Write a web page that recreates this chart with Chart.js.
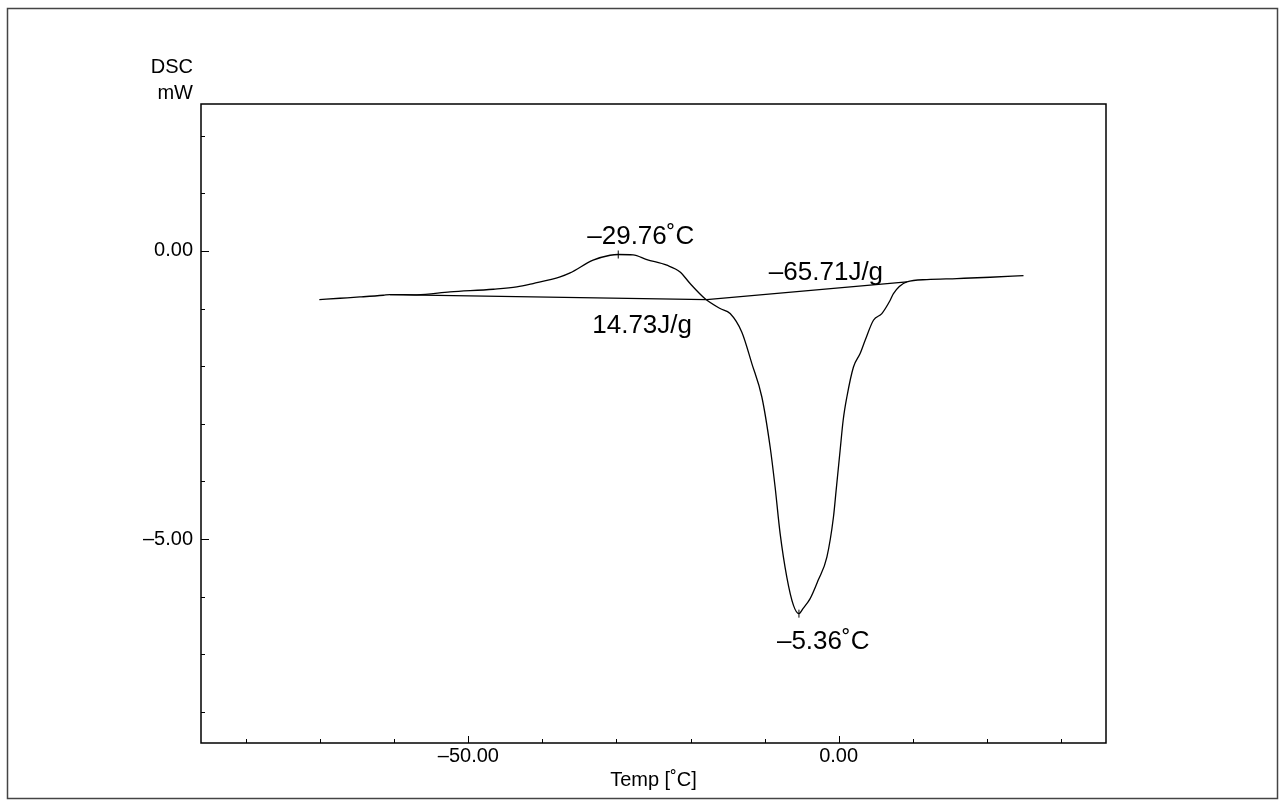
<!DOCTYPE html>
<html>
<head>
<meta charset="utf-8">
<title>DSC</title>
<script src="https://cdn.jsdelivr.net/npm/chart.js@4.4.0/dist/chart.umd.min.js"></script>
<style>
  html, body { margin: 0; padding: 0; background: #fff; }
</style>
</head>
<body>
<canvas id="dsc" width="1285" height="807"></canvas>
<script>
// DSC heating scan: temperature [˚C] vs heat flow [mW]
const temps = [-70.12, -67.33, -64.63, -61.48, -60.58, -56.97, -52.47, -46.62, -43.46, -41.26,
  -37.61, -36.26, -33.16, -30.86, -29.76, -27.76, -25.90, -23.20, -21.41, -20.06,
  -18.03, -16.00, -14.65, -13.07, -11.72, -10.37, -9.25, -8.58, -7.90, -7.00,
  -6.10, -5.36, -4.79, -3.85, -2.77, -1.59, -0.70, -0.34, 0.20, 0.61,
  1.11, 2.00, 2.90, 3.58, 4.70, 5.83, 6.96, 7.40, 9.21, 11.91,
  15.96, 20.46, 24.96];
const heatFlow = [-0.844, -0.821, -0.799, -0.769, -0.757, -0.762, -0.712, -0.665, -0.625, -0.566,
  -0.451, -0.382, -0.161, -0.075, -0.062, -0.068, -0.149, -0.248, -0.365, -0.566,
  -0.830, -1.000, -1.087, -1.411, -1.955, -2.535, -3.403, -4.097, -4.906, -5.660,
  -6.151, -6.295, -6.203, -6.035, -5.717, -5.313, -4.618, -4.155, -3.460, -2.939,
  -2.535, -2.014, -1.781, -1.550, -1.203, -1.087, -0.856, -0.740, -0.538, -0.497,
  -0.479, -0.457, -0.427];

// integration baselines of the two peaks
const base1Temps = [-60.58, -17.83];
const base1Flow = [-0.757, -0.844];
const base2Temps = [-17.83, 9.21];
const base2Flow = [-0.844, -0.538];

// peak results
const peakTemps = [-29.76, -5.36];
const enthalpies = [14.73, -65.71];

// axis ticks
const xMajor = [-50, 0];
const xMajorLabels = ['–50.00', '0.00'];
const xMinor = [-80, -70, -60, -40, -30, -20, -10, 10, 20, 30];
const yMajor = [0, -5];
const yMajorLabels = ['0.00', '–5.00'];
const yMinor = [2, 1, -1, -2, -3, -4, -6, -7, -8];

const FONT = '"Liberation Sans", Arial, Helvetica, sans-serif';

const toPoints = (xs, ys) => xs.map((t, i) => ({ x: t, y: ys[i] }));
const fmt = v => (v < 0 ? '–' : '') + Math.abs(v).toFixed(2);

// heat flow at a temperature
function flowAt(t) {
  for (let i = 1; i < temps.length; i++) {
    if (t <= temps[i]) {
      const f = (t - temps[i - 1]) / (temps[i] - temps[i - 1]);
      return heatFlow[i - 1] + f * (heatFlow[i] - heatFlow[i - 1]);
    }
  }
  return heatFlow[heatFlow.length - 1];
}

const lineSet = (pts, width, smooth) => ({
  data: pts,
  showLine: true,
  borderColor: '#000',
  borderWidth: width,
  pointRadius: 0,
  cubicInterpolationMode: smooth ? 'monotone' : 'default',
  tension: 0
});

const decor = {
  id: 'decor',
  afterDraw(chart) {
    const { ctx, chartArea: a, scales: { x, y } } = chart;
    ctx.save();

    // plot frame
    ctx.strokeStyle = '#000';
    ctx.lineWidth = 1.5;
    ctx.strokeRect(a.left, a.top, a.right - a.left, a.bottom - a.top);

    // tick marks pointing into the plot
    ctx.lineWidth = 1;
    ctx.beginPath();
    xMajor.concat(xMinor).forEach(v => {
      const px = Math.round(x.getPixelForValue(v)) + 0.5;
      ctx.moveTo(px, a.bottom);
      ctx.lineTo(px, a.bottom - (xMajor.includes(v) ? 7 : 4));
    });
    yMajor.concat(yMinor).forEach(v => {
      const py = Math.round(y.getPixelForValue(v)) + 0.5;
      ctx.moveTo(a.left, py);
      ctx.lineTo(a.left + (yMajor.includes(v) ? 8 : 4), py);
    });
    // small markers on the peak tops
    peakTemps.forEach(t => {
      const px = x.getPixelForValue(t);
      const py = y.getPixelForValue(flowAt(t));
      ctx.moveTo(px, py - 4);
      ctx.lineTo(px, py + 4);
    });
    ctx.stroke();

    ctx.fillStyle = '#000';
    ctx.textBaseline = 'alphabetic';
    ctx.textAlign = 'left';
    ctx.font = '26px ' + FONT;

    // peak temperatures
    const p0x = x.getPixelForValue(peakTemps[0]);
    const p0y = y.getPixelForValue(flowAt(peakTemps[0]));
    ctx.fillText(fmt(peakTemps[0]) + '˚C', p0x - 31, p0y - 11);
    const p1x = x.getPixelForValue(peakTemps[1]);
    const p1y = y.getPixelForValue(flowAt(peakTemps[1]));
    ctx.fillText(fmt(peakTemps[1]) + '˚C', p1x - 22, p1y + 35);

    // peak areas
    const b1y = y.getPixelForValue(base1Flow[0] + (peakTemps[0] - base1Temps[0]) /
      (base1Temps[1] - base1Temps[0]) * (base1Flow[1] - base1Flow[0]));
    ctx.fillText(fmt(enthalpies[0]) + 'J/g', p0x - 26, b1y + 35);
    const b2x = x.getPixelForValue(base2Temps[1]);
    const b2y = y.getPixelForValue(base2Flow[1]);
    ctx.fillText(fmt(enthalpies[1]) + 'J/g', b2x - 138, b2y - 2);

    // y axis caption
    ctx.font = '20px ' + FONT;
    ctx.textAlign = 'right';
    ctx.fillText('DSC', a.left - 8, 73);
    ctx.fillText('mW', a.left - 8, 99);

    // outer border
    ctx.strokeStyle = '#444';
    ctx.lineWidth = 1.5;
    ctx.strokeRect(7.5, 8.5, 1270, 790);
    ctx.restore();
  }
};

new Chart(document.getElementById('dsc'), {
  type: 'scatter',
  data: {
    datasets: [
      lineSet(toPoints(temps, heatFlow), 1.3, true),
      lineSet(toPoints(base1Temps, base1Flow), 1.2, false),
      lineSet(toPoints(base2Temps, base2Flow), 1.2, false)
    ]
  },
  options: {
    responsive: false,
    animation: false,
    devicePixelRatio: 1,
    layout: { padding: { top: 104, right: 179, left: 0, bottom: 0 } },
    plugins: { legend: { display: false }, tooltip: { enabled: false } },
    scales: {
      x: {
        type: 'linear',
        min: -86.1,
        max: 36.1,
        grid: { display: false, drawTicks: false },
        border: { display: false },
        afterBuildTicks: s => { s.ticks = xMajor.map(v => ({ value: v })); },
        afterFit: s => { s.height = 64; },
        ticks: {
          color: '#000',
          font: { family: FONT, size: 20 },
          padding: 1,
          maxRotation: 0,
          autoSkip: false,
          callback: v => xMajorLabels[xMajor.indexOf(v)] ?? ''
        },
        title: {
          display: true,
          text: 'Temp [˚C]',
          color: '#000',
          font: { family: FONT, size: 20 },
          padding: { top: 0, bottom: 15 }
        }
      },
      y: {
        type: 'linear',
        min: -8.54,
        max: 2.55,
        grid: { display: false, drawTicks: false },
        border: { display: false },
        afterBuildTicks: s => { s.ticks = yMajor.map(v => ({ value: v })); },
        afterFit: s => { s.width = 201; },
        ticks: {
          color: '#000',
          font: { family: FONT, size: 20 },
          padding: 8,
          autoSkip: false,
          callback: v => yMajorLabels[yMajor.indexOf(v)] ?? ''
        }
      }
    }
  },
  plugins: [decor]
});
</script>
</body>
</html>
